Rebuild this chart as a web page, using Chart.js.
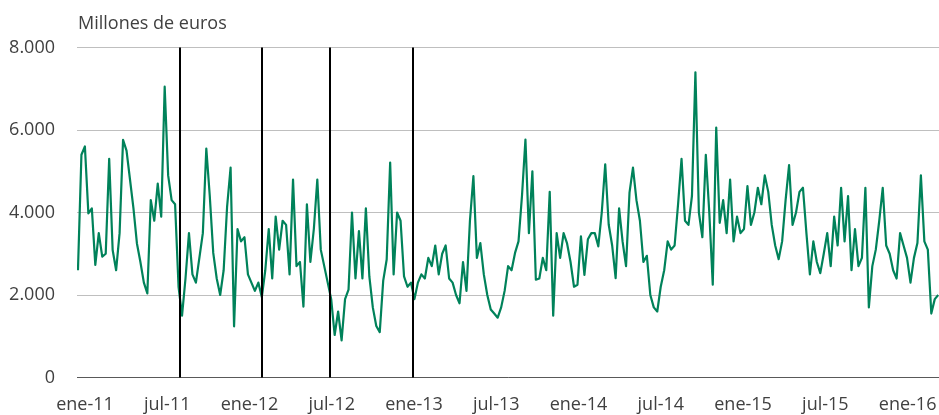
<!DOCTYPE html>
<html lang="es">
<head>
<meta charset="utf-8">
<title>Millones de euros</title>
<script src="https://cdn.jsdelivr.net/npm/chart.js@4/dist/chart.umd.min.js"></script>
<style>
  html, body { margin: 0; padding: 0; background: #fff; }
  #caja { width: 939px; height: 415px; position: relative; }
</style>
</head>
<body>
<div id="caja"><canvas id="grafico"></canvas></div>
<script>
// Datos (millones de euros), una muestra por ~semana
const valores = [
  2600, 5400, 5600, 3980, 4100, 2730, 3500, 2930, 3000, 5300,
  3090, 2600, 3500, 5760, 5500, 4800, 4100, 3250, 2800, 2300,
  2040, 4300, 3800, 4700, 3900, 7050, 4900, 4300, 4200, 2200,
  1500, 2400, 3500, 2500, 2300, 2900, 3500, 5550, 4400, 3020,
  2400, 2000, 2600, 4150, 5090, 1240, 3600, 3300, 3400, 2500,
  2300, 2100, 2300, 1950, 2600, 3600, 2400, 3900, 3100, 3800,
  3700, 2500, 4800, 2700, 2800, 1720, 4200, 2800, 3600, 4800,
  3100, 2700, 2300, 1900, 1030, 1600, 900, 1900, 2130, 4000,
  2400, 3550, 2400, 4100, 2450, 1700, 1250, 1100, 2350, 2860,
  5210, 2500, 4000, 3800, 2450, 2200, 2300, 1900, 2300, 2500,
  2400, 2900, 2700, 3200, 2500, 3000, 3200, 2400, 2300, 2000,
  1800, 2800, 2100, 3800, 4880, 2900, 3260, 2500, 2000, 1650,
  1550, 1450, 1700, 2100, 2700, 2600, 3020, 3300, 4400, 5770,
  3500, 5000, 2370, 2400, 2900, 2600, 4500, 1500, 3500, 2900,
  3500, 3250, 2800, 2200, 2250, 3420, 2490, 3350, 3500, 3500,
  3180, 4000, 5170, 3710, 3200, 2410, 4100, 3300, 2700, 4480,
  5090, 4300, 3800, 2800, 2950, 2000, 1700, 1600, 2200, 2600,
  3300, 3100, 3200, 4200, 5300, 3800, 3700, 4400, 7400, 4000,
  3400, 5400, 4000, 2250, 6060, 3750, 4300, 3500, 4800, 3300,
  3900, 3500, 3600, 4640, 3700, 4000, 4600, 4200, 4900, 4500,
  3700, 3200, 2870, 3300, 4300, 5150, 3700, 4000, 4500, 4600,
  3500, 2500, 3300, 2800, 2530, 3000, 3500, 2700, 3900, 3200,
  4600, 3300, 4400, 2600, 3600, 2700, 2900, 4600, 1700, 2700,
  3100, 3800, 4600, 3200, 3000, 2600, 2400, 3500, 3200, 2900,
  2300, 2900, 3260, 4900, 3300, 3100, 1550, 1900, 2000
];
const primerMes = -0.51;   // meses desde ene-11 de la primera muestra
const paso = 0.253;        // meses entre muestras

// Eje X: meses desde enero 2011
const meses = [0, 6, 12, 18, 24, 30, 36, 42, 48, 54, 60];
const etiquetas = ['ene-11', 'jul-11', 'ene-12', 'jul-12', 'ene-13', 'jul-13',
  'ene-14', 'jul-14', 'ene-15', 'jul-15', 'ene-16'];

// Lineas verticales (meses desde ene-11)
const hitos = [6.93, 12.93, 17.87, 23.95];

const puntos = valores.map((v, i) => ({ x: primerMes + paso * i, y: v }));

const FUENTE = "'Open Sans', 'Noto Sans', sans-serif";
const GRIS = '#404040';

// dibuja el titulo del eje y las lineas negras
const extras = {
  id: 'extras',
  afterDatasetsDraw(chart) {
    const { ctx, chartArea, scales } = chart;
    ctx.save();
    ctx.strokeStyle = '#000';
    ctx.lineWidth = 2;
    hitos.forEach(m => {
      const x = Math.round(scales.x.getPixelForValue(m));
      ctx.beginPath();
      ctx.moveTo(x, chartArea.top);
      ctx.lineTo(x, chartArea.bottom);
      ctx.stroke();
    });
    ctx.restore();
  },
  afterDraw(chart) {
    const { ctx, chartArea } = chart;
    ctx.save();
    ctx.font = '18px ' + FUENTE;
    ctx.fillStyle = GRIS;
    ctx.textBaseline = 'alphabetic';
    ctx.fillText('Millones de euros', chartArea.left + 1, 29);
    ctx.restore();
  }
};

new Chart(document.getElementById('grafico'), {
  type: 'line',
  data: {
    datasets: [{
      data: puntos,
      borderColor: '#00825a',
      borderWidth: 2.2,
      pointRadius: 0,
      tension: 0,
      borderJoinStyle: 'round'
    }]
  },
  options: {
    responsive: true,
    maintainAspectRatio: false,
    animation: false,
    layout: { padding: { top: 47.5, right: 0, left: 0, bottom: 0 } },
    plugins: {
      legend: { display: false },
      tooltip: { enabled: false }
    },
    scales: {
      x: {
        type: 'linear',
        min: -0.58,
        max: 62.29,
        afterBuildTicks: s => { s.ticks = meses.map(m => ({ value: m })); },
        afterFit: s => { s.height = 37.5; s.paddingLeft = 0; s.paddingRight = 0; },
        grid: { display: false, drawTicks: false },
        border: { display: true, color: '#595959', width: 1 },
        ticks: {
          autoSkip: false,
          maxRotation: 0,
          padding: 17,
          color: GRIS,
          font: { family: FUENTE, size: 18 },
          callback: v => etiquetas[meses.indexOf(v)]
        }
      },
      y: {
        min: 0,
        max: 8000,
        afterFit: s => { s.width = 77; },
        grid: { color: '#bfbfbf', lineWidth: 1, drawTicks: false },
        border: { display: false },
        ticks: {
          stepSize: 2000,
          padding: 22,
          color: GRIS,
          font: { family: FUENTE, size: 18 },
          callback: v => v === 0 ? '0' : v.toString().replace(/\B(?=(\d{3})+(?!\d))/g, '.')
        }
      }
    }
  },
  plugins: [extras]
});
</script>
</body>
</html>
